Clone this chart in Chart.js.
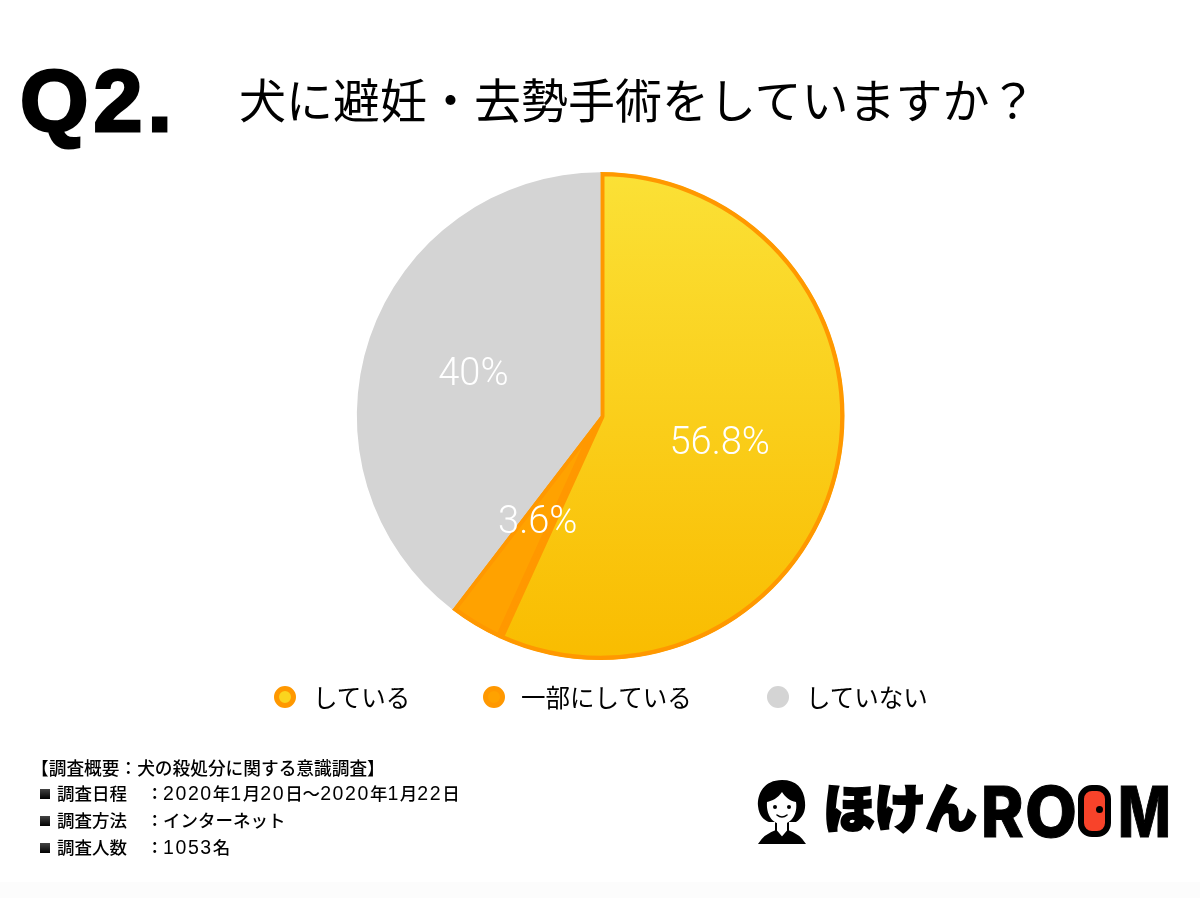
<!DOCTYPE html>
<html lang="ja">
<head>
<meta charset="utf-8">
<title>Q2</title>
<script src="https://cdn.jsdelivr.net/npm/chart.js@4"></script>
<style>
    html, body { margin: 0; padding: 0; background: #fff; }
    body { position: relative; width: 1200px; height: 898px; overflow: hidden; font-family: "Noto Sans CJK JP", sans-serif; color: #000; }
    #pie { position: absolute; left: 0; top: 0; }
    .abs { position: absolute; white-space: nowrap; line-height: 1; }
    #qno { left: 20px; top: 50px; font: 700 88px "Liberation Sans", sans-serif; -webkit-text-stroke: 3px #000; letter-spacing: 5px; }
    #title { left: 239px; top: 74px; font-size: 47px; font-weight: 400; }
    .leg-dot { position: absolute; top: 686px; width: 22px; height: 22px; border-radius: 50%; box-sizing: border-box; }
    .leg-text { position: absolute; top: 684px; font-size: 24.5px; line-height: 26px; white-space: nowrap; }
    .note { position: absolute; font-size: 17.5px; line-height: 20px; font-weight: 500; white-space: nowrap; }
    .note b { font: 400 19.5px/20px "Liberation Sans", sans-serif; letter-spacing: 1.6px; }
    .sq { position: absolute; left: 40px; width: 10px; height: 10px; background: linear-gradient(#444, #000); }
    .logo { position: absolute; line-height: 1; font-weight: 900; white-space: nowrap; }
    .cap { font: 800 70px Inter, sans-serif; transform-origin: left top; -webkit-text-stroke: 1px #000; }
    #bottom { position: absolute; left: 0; right: 0; top: 882px; bottom: 0; background: #fcfcfc; }
</style>
</head>
<body>
<div id="bottom"></div>
<canvas id="pie" width="1200" height="898"></canvas>
<div id="qno" class="abs">Q2.</div>
<div id="title" class="abs">犬に避妊・去勢手術をしていますか？</div>
<div id="legend"></div>
<div id="notes"></div>

<!-- logo -->
<svg style="position:absolute;left:752px;top:778px" width="60" height="70" viewBox="0 0 60 70">
    <path d="M6 66 Q12 56 24 52 L30 60 L36 52 Q48 56 54 66 Z" fill="#000"/>
    <path d="M24 42 L24 53 L30 60 L36 53 L36 42 Z" fill="#fff" stroke="#000" stroke-width="2"/>
    <path d="M30 2 C12 2 5 16 6 28 C7 38 12 42 17 44 L44 44 C50 40 54 34 53 24 C52 10 44 2 30 2 Z" fill="#000"/>
    <path d="M30 14 C26 20 20 23 15 24 C14 36 20 46 30 46 C39 46 46 36 44 24 C38 23 33 19 30 14 Z" fill="#fff"/>
    <circle cx="23" cy="29" r="2" fill="#000"/>
    <circle cx="37" cy="29" r="2" fill="#000"/>
    <path d="M25 37 Q30 41 35 37" fill="none" stroke="#000" stroke-width="1.6" stroke-linecap="round"/>
</svg>
<div class="logo" style="left:823px;top:780px;font-size:52px;-webkit-text-stroke:2px #000;letter-spacing:-1px;">ほけん</div>
<div class="logo cap" style="left:981px;top:769px;transform:scaleX(0.92)">R</div>
<div class="logo cap" style="left:1025px;top:769px;transform:scaleX(0.96)">O</div>
<div class="logo" style="left:1078px;top:785px;width:33px;height:52px;box-sizing:border-box;border:6px solid #000;border-radius:14px;background:#f8432a;">
    <span style="position:absolute;left:12px;top:15px;width:7px;height:7px;border-radius:50%;background:#000"></span>
</div>
<div class="logo cap" style="left:1118px;top:769px;transform:scaleX(0.8)">M</div>

<script>
// 集計データ
const categories = ['している', '一部にしている', 'していない'];
const shares = [56.8, 3.6, 39.6];
const shareLabels = ['56.8%', '3.6%', '40%'];
const labelRadius = [1, 1, 1.1];

const surveyTitle = '【調査概要：犬の殺処分に関する意識調査】';
const surveyKeys = ['調査日程', '調査方法', '調査人数'];
const surveyValues = ['2020年1月20日～2020年1月22日', 'インターネット', '1053名'];

// Colors
const borderColors = ['#ff9800', '#ff9800', '#d4d4d4'];
const legendX = [274, 483, 767];
const legendTextX = [313, 521, 806];
const noteY = [757, 783, 810, 837];

// Yellow slice fades top to bottom
function sliceFill(ctx) {
    if (ctx.dataIndex === 1) return '#ffa200';
    if (ctx.dataIndex === 2) return '#d4d4d4';
    const g = ctx.chart.ctx.createLinearGradient(0, 172, 0, 660);
    g.addColorStop(0, '#fbe136');
    g.addColorStop(1, '#f9bc00');
    return g;
}

// Percent text on each slice
const sliceLabels = {
    id: 'sliceLabels',
    afterDatasetsDraw(chart) {
        const c = chart.ctx;
        const arcs = chart.getDatasetMeta(0).data;
        c.save();
        c.fillStyle = '#fff';
        c.font = '300 38px Roboto, sans-serif';
        c.textAlign = 'center';
        c.textBaseline = 'middle';
        arcs.forEach((arc, i) => {
            const p = arc.getCenterPoint();
            const x = arc.x + (p.x - arc.x) * labelRadius[i];
            const y = arc.y + (p.y - arc.y) * labelRadius[i];
            c.fillText(shareLabels[i], x, y + 3);
        });
        c.restore();
    }
};

new Chart(document.getElementById('pie'), {
    type: 'pie',
    data: {
        labels: categories,
        datasets: [{
            data: shares,
            backgroundColor: sliceFill,
            borderColor: borderColors,
            borderWidth: [4, 4, 0],
            borderAlign: 'inner'
        }]
    },
    options: {
        responsive: false,
        animation: false,
        layout: { padding: { left: 356, right: 355, top: 172, bottom: 238 } },
        plugins: { legend: { display: false }, tooltip: { enabled: false } }
    },
    plugins: [sliceLabels]
});

// Legend
const legendEl = document.getElementById('legend');
const dotStyles = [
    'background:#fbd41e;border:5px solid #ff9800',
    'background:#ffa200;border:5px solid #ff9800',
    'background:#d4d4d4'
];
categories.forEach((name, i) => {
    legendEl.insertAdjacentHTML('beforeend',
        `<span class="leg-dot" style="left:${legendX[i]}px;${dotStyles[i]}"></span>` +
        `<span class="leg-text" style="left:${legendTextX[i]}px">${name}</span>`);
});

// Survey notes
const wrapDigits = s => s.replace(/\d+/g, '<b>$&</b>');
const notesEl = document.getElementById('notes');
notesEl.insertAdjacentHTML('beforeend', `<div class="note" style="left:31px;top:${noteY[0]}px;font-size:17.7px">${surveyTitle}</div>`);
surveyKeys.forEach((key, i) => {
    const y = noteY[i + 1];
    notesEl.insertAdjacentHTML('beforeend',
        `<span class="sq" style="top:${y + 6}px"></span>` +
        `<div class="note" style="left:57px;top:${y}px">${key}</div>` +
        `<div class="note" style="left:146px;top:${y}px">：</div>` +
        `<div class="note" style="left:163px;top:${y}px">${wrapDigits(surveyValues[i])}</div>`);
});
</script>
</body>
</html>
